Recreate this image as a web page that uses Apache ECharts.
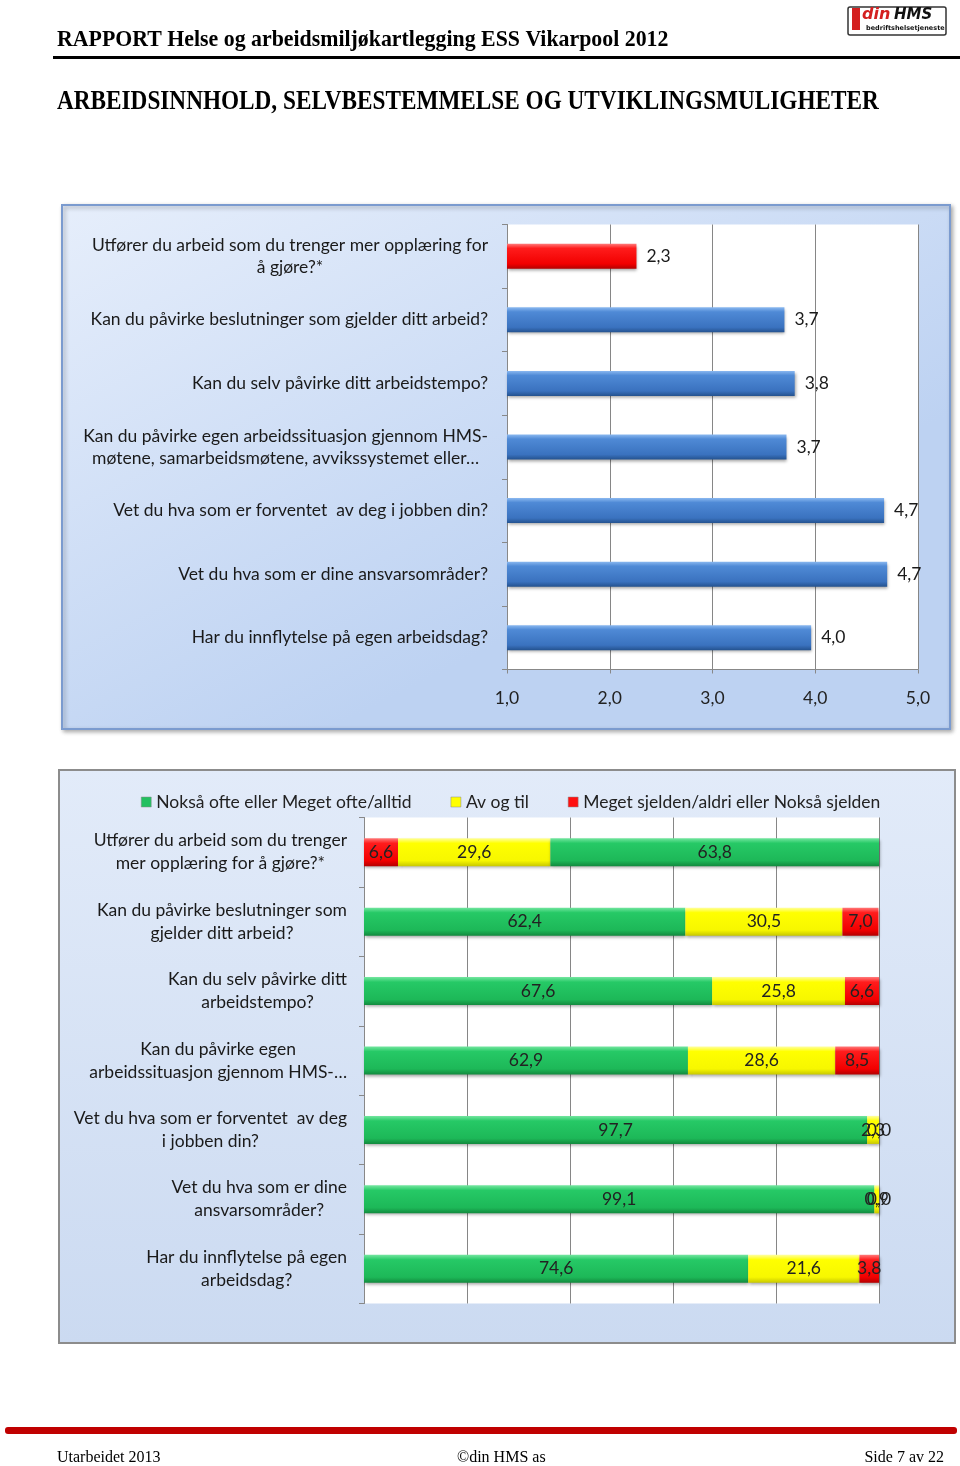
<!DOCTYPE html>
<html><head><meta charset="utf-8">
<script src="https://cdn.jsdelivr.net/npm/echarts@6/dist/echarts.min.js"></script>
<style>html,body{margin:0;padding:0;background:#fff}#c{width:960px;height:1466px}</style>
</head><body><div id="c"></div>
<script>
// ---- data ----
const topCategories = [
  'Utfører du arbeid som du trenger mer opplæring for\nå gjøre?*',
  'Kan du påvirke beslutninger som gjelder ditt arbeid?',
  'Kan du selv påvirke ditt arbeidstempo?',
  'Kan du påvirke egen arbeidssituasjon gjennom HMS-\nmøtene, samarbeidsmøtene, avvikssystemet eller…',
  'Vet du hva som er forventet  av deg i jobben din?',
  'Vet du hva som er dine ansvarsområder?',
  'Har du innflytelse på egen arbeidsdag?'
];
const topValues = [2.26, 3.70, 3.80, 3.72, 4.67, 4.70, 3.96];
const topTicks = ['1,0', '2,0', '3,0', '4,0', '5,0'];

const stackCategories = [
  'Utfører du arbeid som du trenger\nmer opplæring for å gjøre?*',
  'Kan du påvirke beslutninger som\ngjelder ditt arbeid?',
  'Kan du selv påvirke ditt\narbeidstempo?',
  'Kan du påvirke egen\narbeidssituasjon gjennom HMS-…',
  'Vet du hva som er forventet  av deg\ni jobben din?',
  'Vet du hva som er dine\nansvarsområder?',
  'Har du innflytelse på egen\narbeidsdag?'
];
const seriesNames = ['Nokså ofte eller Meget ofte/alltid', 'Av og til', 'Meget sjelden/aldri eller Nokså sjelden'];
const oftenValues = [63.8, 62.4, 67.6, 62.9, 97.7, 99.1, 74.6];
const sometimesValues = [29.6, 30.5, 25.8, 28.6, 2.3, 0.9, 21.6];
const rarelyValues = [6.6, 7.0, 6.6, 8.5, 0.0, 0.0, 3.8];
const reversedRows = [true, false, false, false, false, false, false];

// ---- styles ----
const FONT = 'Lato';
const FS = 17.5;
function grad(stops) {
  return new echarts.graphic.LinearGradient(0, 0, 0, 1, stops.map((c, i) => ({offset: [0, 0.18, 0.8, 1][i], color: c})));
}
const BLUE = grad(['#8ab8f0', '#4f8ad6', '#3a72bf', '#24528f']);
const RED = grad(['#ff7a7a', '#ff1c1c', '#f20000', '#b40000']);
const GREEN = grad(['#74e6a0', '#26c966', '#1db858', '#128a3e']);
const YELLOW = grad(['#ffffa0', '#ffff00', '#f7f700', '#c8c800']);
const shadow = {shadowBlur: 3, shadowColor: 'rgba(0,0,0,0.35)', shadowOffsetY: 2, shadowOffsetX: 1};

function centeredLines(v) {
  return v.split('\n').map(l => '{c|' + l + '}').join('\n');
}
const fmt = v => v.toFixed(1).replace('.', ',');

// bottom chart segments in drawing order (left to right)
const seg1 = oftenValues.map((v, i) => reversedRows[i] ? rarelyValues[i] : v);
const seg3 = rarelyValues.map((v, i) => reversedRows[i] ? oftenValues[i] : v);

const chart = echarts.init(document.getElementById('c'), null, {renderer: 'canvas'});

const stackLabel = {show: true, position: 'inside', fontFamily: FONT, fontSize: FS, color: '#222',
  formatter: p => fmt(p.value)};

chart.setOption({
  backgroundColor: '#fff',
  animation: false,
  textStyle: {fontFamily: FONT},
  grid: [
    {left: 507, right: 42, top: 224.5, height: 445, show: true, backgroundColor: '#fff', borderWidth: 0},
    {left: 364, right: 81, top: 817.5, height: 486, show: true, backgroundColor: '#fff', borderWidth: 0}
  ],
  legend: {
    left: 136, top: 788, itemWidth: 10, itemHeight: 10, itemGap: 39, icon: 'rect',
    data: seriesNames.map((n, i) => ({name: n, itemStyle: {color: ['#22c060', '#ffff00', '#ff1010'][i], borderColor: '#888', borderWidth: 0.5}})),
    textStyle: {fontFamily: FONT, fontSize: FS, color: '#222'}
  },
  xAxis: [
    {gridIndex: 0, type: 'value', min: 1, max: 5, interval: 1,
      axisLine: {show: true, lineStyle: {color: '#888'}},
      axisTick: {show: true, length: 4, lineStyle: {color: '#888'}},
      axisLabel: {margin: 20, fontFamily: FONT, fontSize: FS, color: '#222', formatter: v => topTicks[Math.round(v) - 1]},
      splitLine: {show: true, lineStyle: {color: '#868686', width: 1}}},
    {gridIndex: 1, type: 'value', min: 0, max: 100, interval: 20,
      axisLine: {show: false}, axisTick: {show: false}, axisLabel: {show: false},
      splitLine: {show: true, lineStyle: {color: '#868686', width: 1}}}
  ],
  yAxis: [
    {gridIndex: 0, type: 'category', inverse: true, data: topCategories,
      axisLine: {show: true, lineStyle: {color: '#888'}},
      axisTick: {show: true, length: 5, lineStyle: {color: '#888'}},
      axisLabel: {margin: 19, fontFamily: FONT, fontSize: FS, color: '#1a1a1a', lineHeight: 22,
        formatter: centeredLines, rich: {c: {align: 'center', fontFamily: FONT, fontSize: FS, color: '#1a1a1a', lineHeight: 22}}}},
    {gridIndex: 1, type: 'category', inverse: true, data: stackCategories,
      axisLine: {show: true, lineStyle: {color: '#888'}},
      axisTick: {show: true, length: 5, lineStyle: {color: '#888'}},
      axisLabel: {margin: 17, fontFamily: FONT, fontSize: FS, color: '#1a1a1a', lineHeight: 23,
        formatter: centeredLines, rich: {c: {align: 'center', fontFamily: FONT, fontSize: FS, color: '#1a1a1a', lineHeight: 23}}}}
  ],
  series: [
    {type: 'bar', xAxisIndex: 0, yAxisIndex: 0, barWidth: 25,
      data: topValues.map((v, i) => ({value: v, itemStyle: {color: i === 0 ? RED : BLUE}})),
      itemStyle: Object.assign({color: BLUE}, shadow),
      label: {show: true, position: 'right', distance: 10, fontFamily: FONT, fontSize: FS, color: '#1a1a1a', formatter: p => fmt(p.value)}},
    {name: seriesNames[0], type: 'bar', stack: 's', xAxisIndex: 1, yAxisIndex: 1, barWidth: 28,
      data: seg1.map((v, i) => ({value: v, itemStyle: {color: reversedRows[i] ? RED : GREEN}})),
      itemStyle: Object.assign({color: GREEN}, shadow), label: stackLabel},
    {name: seriesNames[1], type: 'bar', stack: 's', xAxisIndex: 1, yAxisIndex: 1, barWidth: 28,
      data: sometimesValues,
      itemStyle: Object.assign({color: YELLOW}, shadow), label: stackLabel},
    {name: seriesNames[2], type: 'bar', stack: 's', xAxisIndex: 1, yAxisIndex: 1, barWidth: 28,
      data: seg3.map((v, i) => ({value: v, itemStyle: {color: reversedRows[i] ? GREEN : RED}})),
      itemStyle: Object.assign({color: RED}, shadow), label: stackLabel}
  ],
  graphic: [
    // header
    {type: 'text', z: 10, x: 57, y: 40, scaleX: 0.95, style: {x: 0, y: 0, text: 'RAPPORT Helse og arbeidsmiljøkartlegging ESS Vikarpool 2012', font: 'bold 23px "Liberation Serif"', fill: '#000', verticalAlign: 'middle'}},
    {type: 'rect', z: 10, shape: {x: 53, y: 56, width: 907, height: 3}, style: {fill: '#000'}},
    {type: 'text', z: 10, x: 57, y: 102, scaleX: 0.83, style: {x: 0, y: 0, text: 'ARBEIDSINNHOLD, SELVBESTEMMELSE OG UTVIKLINGSMULIGHETER', font: 'bold 28px "Liberation Serif"', fill: '#000', verticalAlign: 'middle'}},
    // logo
    {type: 'group', z: 10, x: 848, y: 2, children: [
      {type: 'rect', shape: {x: 0, y: 5, width: 98, height: 28, r: 2}, style: {fill: '#fff', stroke: '#333', lineWidth: 1.5}},
      {type: 'rect', shape: {x: 4, y: 6, width: 8, height: 22}, style: {fill: '#d42020'}},
      {type: 'text', style: {x: 14, y: 5, text: 'din', font: 'italic bold 16px "DejaVu Sans"', fill: '#d42020'}},
      {type: 'text', style: {x: 46, y: 6, text: 'HMS', font: 'italic bold 15px "DejaVu Sans"', fill: '#111'}},
      {type: 'text', style: {x: 18, y: 23, text: 'bedriftshelsetjeneste', font: 'bold 6.5px "DejaVu Sans"', fill: '#111'}}
    ]},
    // top frame
    {type: 'rect', z: -10, shape: {x: 62, y: 205, width: 888, height: 524},
      style: {fill: new echarts.graphic.LinearGradient(0, 0, 0.3, 1, [{offset: 0, color: '#e6eefb'}, {offset: 1, color: '#bdd2f2'}]),
        stroke: '#7b9bcf', lineWidth: 2, shadowBlur: 4, shadowColor: 'rgba(0,0,0,0.3)', shadowOffsetX: 2, shadowOffsetY: 2}},
    // bottom frame
    {type: 'rect', z: -10, shape: {x: 59, y: 770, width: 896, height: 573},
      style: {fill: new echarts.graphic.LinearGradient(0, 0, 0, 1, [{offset: 0, color: '#e2ebf9'}, {offset: 1, color: '#cbdaf1'}]),
        stroke: '#8c8c8c', lineWidth: 2}},
    // footer
    {type: 'rect', z: 10, shape: {x: 5, y: 1427, width: 952, height: 7, r: 3}, style: {fill: '#c00000'}},
    {type: 'text', z: 10, x: 57, y: 1458, style: {x: 0, y: 0, text: 'Utarbeidet 2013', font: '16px "Liberation Serif"', fill: '#000', verticalAlign: 'middle'}},
    {type: 'text', z: 10, x: 457, y: 1458, style: {x: 0, y: 0, text: '©din HMS as', font: '16px "Liberation Serif"', fill: '#000', verticalAlign: 'middle'}},
    {type: 'text', z: 10, x: 944, y: 1458, style: {x: 0, y: 0, text: 'Side 7 av 22', font: '16px "Liberation Serif"', fill: '#000', verticalAlign: 'middle', align: 'right'}}
  ]
});
</script></body></html>
